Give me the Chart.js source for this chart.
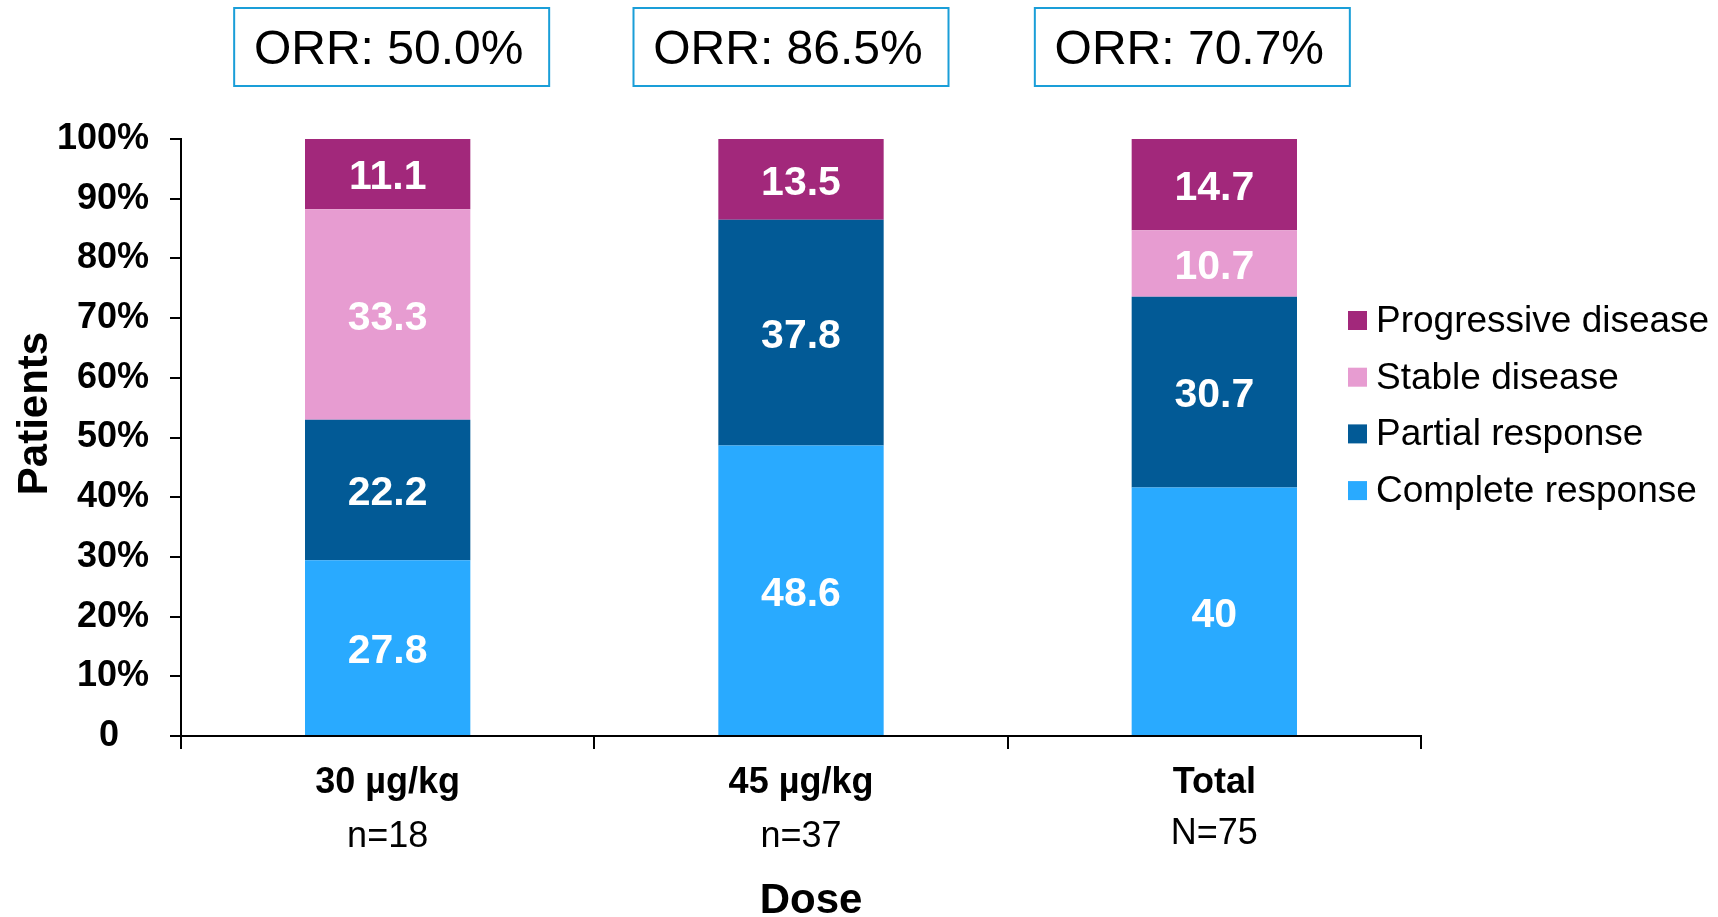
<!DOCTYPE html>
<html><head><meta charset="utf-8">
<script src="https://cdn.jsdelivr.net/npm/chart.js@4"></script>
<style>html,body{margin:0;padding:0;background:#fff;}canvas{display:block;}</style>
</head><body>
<canvas id="c" width="1718" height="917"></canvas>
<script>
// ---- data ----
const categories = ['30 µg/kg', '45 µg/kg', 'Total'];
const sampleSizes = ['n=18', 'n=37', 'N=75'];
const orrLabels = ['ORR: 50.0%', 'ORR: 86.5%', 'ORR: 70.7%'];
const completeResponse = [27.8, 48.6, 40];
const partialResponse = [22.2, 37.8, 30.7];
const stableDisease = [33.3, 0, 10.7];
const progressiveDisease = [11.1, 13.5, 14.7];
const yTickValues = [0, 10, 20, 30, 40, 50, 60, 70, 80, 90, 100];

const FONT = "'Liberation Sans', Arial, Helvetica, sans-serif";
const colors = {
  complete: '#29AAFF',
  partial: '#025A96',
  stable: '#E79CD1',
  progressive: '#A2287B'
};

// normalise each category to 100% (100% stacked bar)
const totals = categories.map((_, i) =>
  completeResponse[i] + partialResponse[i] + stableDisease[i] + progressiveDisease[i]);
const share = arr => arr.map((v, i) => v / totals[i] * 100);

const datasets = [
  { label: 'Complete response', rawValues: completeResponse, data: share(completeResponse), backgroundColor: colors.complete },
  { label: 'Partial response', rawValues: partialResponse, data: share(partialResponse), backgroundColor: colors.partial },
  { label: 'Stable disease', rawValues: stableDisease, data: share(stableDisease), backgroundColor: colors.stable },
  { label: 'Progressive disease', rawValues: progressiveDisease, data: share(progressiveDisease), backgroundColor: colors.progressive }
];

const orrOffsets = [4, -10, -22];

const annot = {
  id: 'annot',
  afterDatasetsDraw(chart) {
    const ctx = chart.ctx;
    ctx.save();
    ctx.font = `bold 41px ${FONT}`;
    ctx.fillStyle = '#fff';
    ctx.textAlign = 'center';
    ctx.textBaseline = 'middle';
    chart.data.datasets.forEach((ds, di) => {
      const meta = chart.getDatasetMeta(di);
      meta.data.forEach((el, i) => {
        const v = ds.rawValues[i];
        if (!v) return;
        const p = el.getProps(['x', 'y', 'base'], true);
        ctx.fillText(String(v), p.x, (p.y + p.base) / 2 + 4);
      });
    });
    ctx.restore();
  },
  afterDraw(chart) {
    const ctx = chart.ctx;
    const ca = chart.chartArea;
    const xs = chart.scales.x;
    ctx.save();
    ctx.fillStyle = '#000';
    ctx.textAlign = 'center';
    ctx.textBaseline = 'alphabetic';
    // x category labels
    categories.forEach((c, i) => {
      const x = xs.getPixelForValue(i);
      ctx.font = `bold 36px ${FONT}`;
      ctx.fillText(c, x, ca.bottom + 57);
      ctx.font = `36px ${FONT}`;
      ctx.fillText(sampleSizes[i], x, ca.bottom + (i === 2 ? 108 : 111));
    });
    // x title
    ctx.font = `bold 42px ${FONT}`;
    ctx.fillText('Dose', (ca.left + ca.right) / 2 + 10, ca.bottom + 177);
    // y title
    ctx.save();
    ctx.translate(ca.left - 146, (ca.top + ca.bottom) / 2 - 24);
    ctx.rotate(-Math.PI / 2);
    ctx.textBaseline = 'middle';
    ctx.font = `bold 42px ${FONT}`;
    ctx.fillText('Patients', 0, 0);
    ctx.restore();
    // ORR boxes
    orrLabels.forEach((t, i) => {
      const cx = xs.getPixelForValue(i) + orrOffsets[i];
      const w = 315, h = 78, top = 8;
      ctx.strokeStyle = '#1A9ED8';
      ctx.lineWidth = 2;
      ctx.fillStyle = '#fff';
      ctx.fillRect(cx - w / 2, top, w, h);
      ctx.strokeRect(cx - w / 2, top, w, h);
      ctx.fillStyle = '#000';
      ctx.font = `48px ${FONT}`;
      ctx.textAlign = 'center';
      ctx.fillText(t, cx - 3, top + 56);
    });
    // legend (reverse order)
    const items = chart.data.datasets.slice().reverse();
    ctx.textAlign = 'left';
    ctx.font = `37px ${FONT}`;
    items.forEach((ds, k) => {
      const base = ca.top + 193 + k * 56.7;
      ctx.fillStyle = ds.backgroundColor;
      ctx.fillRect(ca.right - 73, base - 21, 19, 19);
      ctx.fillStyle = '#000';
      ctx.fillText(ds.label, ca.right - 45, base);
    });
    ctx.restore();
  }
};

new Chart(document.getElementById('c'), {
  type: 'bar',
  data: { labels: categories, datasets },
  options: {
    responsive: false,
    animation: false,
    devicePixelRatio: 1,
    layout: { padding: { top: 139, right: 297, left: 0, bottom: 0 } },
    datasets: { bar: { categoryPercentage: 1, barPercentage: 0.4 } },
    plugins: { legend: { display: false }, tooltip: { enabled: false }, title: { display: false } },
    scales: {
      x: {
        stacked: true,
        ticks: { display: false },
        grid: { drawOnChartArea: false, color: '#000', lineWidth: 2, tickLength: 13, offset: true },
        border: { color: '#000', width: 2 },
        afterFit(s) { s.height = 181; }
      },
      y: {
        stacked: true,
        min: 0,
        max: 100,
        afterBuildTicks(s) { s.ticks = yTickValues.map(v => ({ value: v })); },
        ticks: {
          color: '#000',
          font: { family: FONT, size: 36, weight: 'bold' },
          padding: 21,
          callback: v => v === 0 ? '0   ' : v + '%'
        },
        grid: { drawOnChartArea: false, color: '#000', lineWidth: 2, tickLength: 11 },
        border: { color: '#000', width: 2 },
        afterFit(s) { s.width = 181; }
      }
    }
  },
  plugins: [annot]
});
</script>
</body></html>
